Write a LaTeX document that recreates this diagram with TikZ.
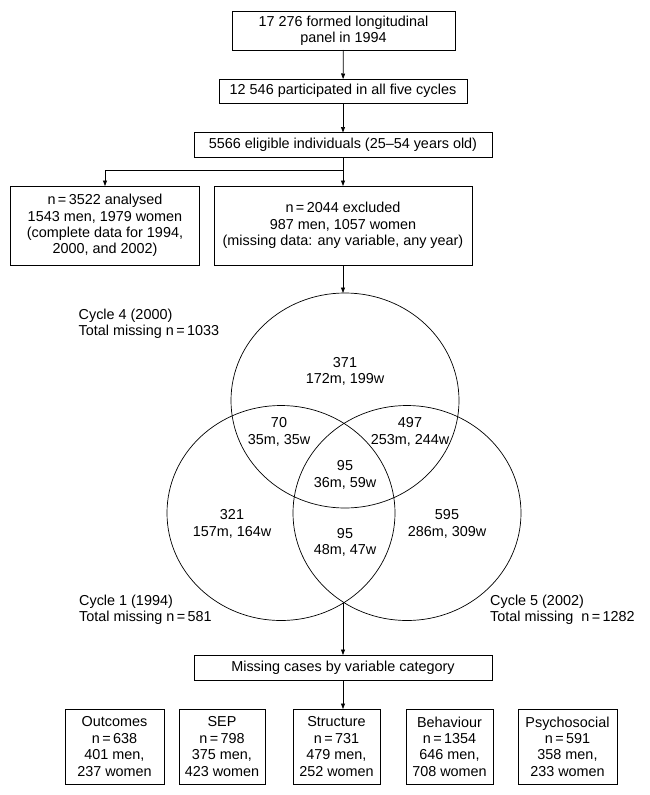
\documentclass[tikz,border=0pt]{standalone}
\usepackage{fontspec}
\setmainfont{Liberation Sans}
\usetikzlibrary{arrows.meta,shapes.geometric}
\begin{document}
\begin{tikzpicture}[x=1pt,y=-1pt,
  every node/.style={font=\fontsize{14.4}{16.4}\selectfont},
  box/.style={draw,line width=0.7pt,align=center,inner sep=0pt,outer sep=0pt},
  venn/.style={draw,ellipse,line width=0.7pt,inner sep=0pt,outer sep=0pt,minimum width=228pt,minimum height=215pt},
  num/.style={align=center,inner sep=0pt},
  lbl/.style={align=left,anchor=west,inner sep=0pt},
  conn/.style={line width=0.7pt,-{Triangle[length=5.5pt,width=4pt]}}]
\useasboundingbox (0,0) rectangle (649,795);
\node[box,minimum width=223pt,minimum height=39pt] (b1) at (343.5,30.5) {17 276 formed longitudinal\\panel in 1994};
\node[box,minimum width=248pt,minimum height=24pt] (b2) at (343,91) {12 546 participated in all five cycles};
\node[box,minimum width=298pt,minimum height=25pt] (b3) at (343,145) {5566 eligible individuals (25--54 years old)};
\node[box,minimum width=189pt,minimum height=79pt] (b4) at (105,225.5) {n\,=\,3522 analysed\\1543 men, 1979 women\\(complete data for 1994,\\2000, and 2002)};
\node[box,minimum width=258pt,minimum height=79pt] (b5) at (343,225.5) {n\,=\,2044 excluded\\987 men, 1057 women\\(missing data: any variable, any year)};
\coordinate (br) at (343,170);
\draw[conn] (b1) -- (b2);
\draw[conn] (b2) -- (b3);
\draw[line width=0.7pt] (b3.south) -- (br);
\draw[conn] (br) -| (b4.north);
\draw[conn] (br) -- (b5.north);

\node[venn] (c4) at (345,400.5) {};
\node[venn] (c1) at (281,513) {};
\node[venn] (c5) at (407,513) {};
\draw[conn] (b5.south) -- (b5.south |- c4.north);

\node[lbl] (l4) at (78.5,324) {Cycle 4 (2000)\\Total missing n\,=\,1033};
\node[lbl] (l1) at (79,609.5) {Cycle 1 (1994)\\Total missing n\,=\,581};
\node[lbl] (l5) at (490,609.5) {Cycle 5 (2002)\\Total missing\ \ n\,=\,1282};

\node[num] (v4) at (345,371.5) {371\\172m, 199w};
\node[num] (v41) at (279,432) {70\\35m, 35w};
\node[num] (v45) at (410,432) {497\\253m, 244w};
\node[num] (vall) at (345,475) {95\\36m, 59w};
\node[num] (v1) at (232,524) {321\\157m, 164w};
\node[num] (v15) at (345,542.5) {95\\48m, 47w};
\node[num] (v5) at (447,524) {595\\286m, 309w};

\coordinate (cb) at (343,603);
\node[box,minimum width=298pt,minimum height=25pt] (b6) at (343,667.5) {Missing cases by variable category};
\draw[conn] (cb) -- (b6.north);

\node[box,minimum width=99pt,minimum height=75pt] (o1) at (114.5,746.5) {Outcomes\\n\,=\,638\\401 men,\\237 women};
\node[box,minimum width=86pt,minimum height=75pt] (o2) at (222,746.5) {SEP\\n\,=\,798\\375 men,\\423 women};
\node[box,minimum width=87pt,minimum height=75pt] (o3) at (336.5,746.5) {Structure\\n\,=\,731\\479 men,\\252 women};
\node[box,minimum width=87pt,minimum height=75pt] (o4) at (449.5,746.5) {Behaviour\\n\,=\,1354\\646 men,\\708 women};
\node[box,minimum width=99pt,minimum height=75pt] (o5) at (567.5,746.5) {Psychosocial\\n\,=\,591\\358 men,\\233 women};
\draw[conn] (b6.south) -- (b6.south |- o3.north);
\end{tikzpicture}
\end{document}
